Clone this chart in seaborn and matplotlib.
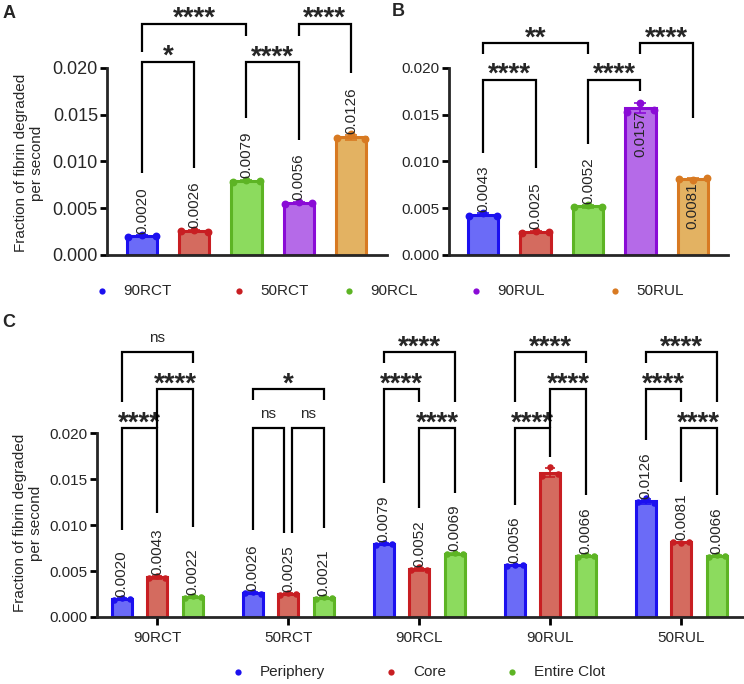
import numpy as np
import pandas as pd
import matplotlib
matplotlib.use("Agg")
import matplotlib.pyplot as plt
import seaborn as sns
from matplotlib.lines import Line2D
from matplotlib.ticker import FormatStrFormatter

# ---------------- data ----------------
conditions = ["90RCT", "50RCT", "90RCL", "90RUL", "50RUL"]
regions = ["Periphery", "Core", "Entire Clot"]

periphery_reps = [[0.0019, 0.0021, 0.0020],
                  [0.0026, 0.0027, 0.0025],
                  [0.0078, 0.0080, 0.0079],
                  [0.0055, 0.0057, 0.0056],
                  [0.0125, 0.0129, 0.0124]]
core_reps = [[0.0042, 0.0045, 0.0042],
             [0.0024, 0.0026, 0.0025],
             [0.0051, 0.0054, 0.0051],
             [0.0153, 0.0163, 0.0155],
             [0.0081, 0.0080, 0.0082]]
entire_reps = [[0.0021, 0.0023, 0.0022],
               [0.0020, 0.0022, 0.0021],
               [0.0068, 0.0070, 0.0069],
               [0.0065, 0.0067, 0.0066],
               [0.0065, 0.0067, 0.0066]]

periphery_labels = ["0.0020", "0.0026", "0.0079", "0.0056", "0.0126"]
core_labels = ["0.0043", "0.0025", "0.0052", "0.0157", "0.0081"]
entire_labels = ["0.0022", "0.0021", "0.0069", "0.0066", "0.0066"]
c_core_labels = ["0.0043", "0.0025", "0.0052", None, "0.0081"]
b_label_inside = [False, False, False, True, True]

# brackets: (bar i, bar j, level, left leg bottom, right leg bottom, text)
a_brackets = [(0, 1, 0.02064, 0.00877, 0.0093, "*"),
              (0, 2, 0.0247, 0.0217, 0.0234, "****"),
              (2, 3, 0.0206, 0.01465, 0.0123, "****"),
              (3, 4, 0.0247, 0.0234, 0.0195, "****")]
b_brackets = [(0, 1, 0.01872, 0.01096, 0.00926, "****"),
              (0, 2, 0.02266, 0.0215, 0.0215, "**"),
              (2, 3, 0.01872, 0.0119, 0.01755, "****"),
              (3, 4, 0.02266, 0.0215, 0.01468, "****")]
# panel C: (group, region i, region j, level, left bottom, right bottom, text)
c_brackets = [(0, 0, 1, 0.02054, 0.00946, 0.0113, "****"),
              (0, 1, 2, 0.02478, 0.02054, 0.00978, "****"),
              (0, 0, 2, 0.0288, 0.02337, 0.02761, "ns"),
              (1, 0, 1, 0.02054, 0.00946, 0.00913, "ns"),
              (1, 1, 2, 0.02054, 0.00913, 0.00967, "ns"),
              (1, 0, 2, 0.02478, 0.02359, 0.02359, "*"),
              (2, 0, 2, 0.0288, 0.02761, 0.02337, "****"),
              (2, 0, 1, 0.02478, 0.01457, 0.02337, "****"),
              (2, 1, 2, 0.02054, 0.01185, 0.01348, "****"),
              (3, 0, 2, 0.0288, 0.02337, 0.02761, "****"),
              (3, 1, 2, 0.02478, 0.02054, 0.01326, "****"),
              (3, 0, 1, 0.02054, 0.01217, 0.01739, "****"),
              (4, 0, 2, 0.0288, 0.02761, 0.02337, "****"),
              (4, 0, 1, 0.02478, 0.01924, 0.02337, "****"),
              (4, 1, 2, 0.02054, 0.01467, 0.01326, "****")]

cond_fill = ["#6b6bf7", "#d46b5f", "#8cdb5e", "#b56ae8", "#e3b262"]
cond_edge = ["#1c10ef", "#c81e22", "#5db424", "#8a0bd6", "#d87a22"]

# ---------------- style ----------------
sns.set_theme(style="ticks")
plt.rcParams["font.family"] = ["Liberation Sans", "DejaVu Sans"]
plt.rcParams["axes.linewidth"] = 2.0

W, H = 744, 684
fig = plt.figure(figsize=(W / 100, H / 100), dpi=100)


def ax_px(left, right, top, bottom):
    return fig.add_axes([left / W, 1 - bottom / H, (right - left) / W, (bottom - top) / H])


def fpos(x, y):
    return x / W, 1 - y / H


def style_axis(ax, ylim, xlim, tick_fs):
    ax.set_ylim(*ylim)
    ax.set_xlim(*xlim)
    sns.despine(ax=ax)
    ax.spines["left"].set_bounds(0, 0.020)
    ax.set_yticks([0, 0.005, 0.010, 0.015, 0.020])
    ax.yaxis.set_major_formatter(FormatStrFormatter("%.3f"))
    ax.tick_params(axis="y", length=5, width=2, labelsize=tick_fs, pad=1.5, color="black")
    ax.set_xlabel("")
    ax.set_ylabel("")
    ax.set_facecolor("none")


def draw_bracket(ax, x1, x2, level, lb, rb, text):
    ax.plot([x1, x1, x2, x2], [lb, level, level, rb], color="black", lw=1.6,
            clip_on=False, solid_joinstyle="miter", solid_capstyle="butt", zorder=5)
    xm = (x1 + x2) / 2
    if text == "ns":
        ax.annotate("ns", xy=(xm, level), xytext=(0, 7), textcoords="offset points",
                    ha="center", va="baseline", fontsize=11, annotation_clip=False)
    else:
        ax.annotate(text, xy=(xm, level), xytext=(0, -1.5), textcoords="offset points",
                    ha="center", va="baseline", fontsize=20, fontweight="bold",
                    annotation_clip=False)


def bar_centers(patches):
    return [p.get_x() + p.get_width() / 2 for p in patches]


def single_panel(ax, reps, labels, inside, brackets, tick_fs):
    df = pd.DataFrame({"cond": np.repeat(conditions, 3),
                       "value": np.concatenate([np.array(r) for r in reps])})
    sns.barplot(data=df, x="cond", y="value", hue="cond", order=conditions,
                hue_order=conditions, palette=cond_fill, errorbar=None,
                width=0.58, linewidth=2.2, legend=False, ax=ax, saturation=1)
    patches = [p for p in ax.patches]
    for p, ec in zip(patches, cond_edge):
        p.set_edgecolor(ec)
    xs = bar_centers(patches)
    hw = patches[0].get_width() / 2
    for i, r in enumerate(reps):
        r = np.array(r)
        ax.errorbar(xs[i], r.mean(), yerr=r.std(ddof=1), fmt="none", ecolor=cond_edge[i],
                    elinewidth=1.2, capsize=4.5, capthick=1.2, zorder=3)
        ax.scatter(xs[i] + np.array([-0.9, 0, 0.9]) * hw, r, s=32, color=cond_edge[i],
                   zorder=4, linewidths=0)
        if labels[i] is None:
            continue
        top = r.mean()
        if inside[i]:
            ax.annotate(labels[i], xy=(xs[i], top), xytext=(0, -2), textcoords="offset points",
                        rotation=90, ha="center", va="top", fontsize=11, zorder=6)
        else:
            ax.annotate(labels[i], xy=(xs[i], top), xytext=(0, 2), textcoords="offset points",
                        rotation=90, ha="center", va="bottom", fontsize=11, zorder=6)
    for (i, j, lev, lb, rb, t) in brackets:
        draw_bracket(ax, xs[i], xs[j], lev, lb, rb, t)
    style_axis(ax, (0, 0.02727), (-0.67, 4.69), tick_fs)
    ax.tick_params(axis="x", bottom=False, labelbottom=False)


# ---------------- panel A ----------------
axA = ax_px(107, 387, 0, 255)
single_panel(axA, periphery_reps, periphery_labels, [False] * 5, a_brackets, 13)

# ---------------- panel B ----------------
axB = ax_px(449, 728, 0, 255)
single_panel(axB, core_reps, core_labels, b_label_inside, b_brackets, 11)
axB.set_xlim(-0.65, 4.67)

# ---------------- panel C ----------------
axC = ax_px(97, 744, 330, 617)
all_reps = [periphery_reps, core_reps, entire_reps]
dfC = pd.DataFrame({
    "group": np.concatenate([np.repeat(conditions, 3) for _ in regions]),
    "region": np.repeat(regions, 15),
    "value": np.concatenate([np.concatenate([np.array(r) for r in reps]) for reps in all_reps]),
})
sns.barplot(data=dfC, x="group", y="value", hue="region", order=conditions,
            hue_order=regions, palette=cond_fill[:3], errorbar=None, width=0.813,
            gap=0.44, linewidth=2.2, legend=False, ax=axC, saturation=1)
c_patches = list(axC.patches)
c_labels = [periphery_labels, c_core_labels, entire_labels]
cx = {}
for k in range(3):
    pk = c_patches[k * 5:(k + 1) * 5]
    for p in pk:
        p.set_edgecolor(cond_edge[k])
    xs = bar_centers(pk)
    hw = pk[0].get_width() / 2
    for g in range(5):
        cx[(g, k)] = xs[g]
        r = np.array(all_reps[k][g])
        axC.errorbar(xs[g], r.mean(), yerr=r.std(ddof=1), fmt="none", ecolor=cond_edge[k],
                     elinewidth=1.2, capsize=3.5, capthick=1.2, zorder=3)
        axC.scatter(xs[g] + np.array([-0.8, 0, 0.8]) * hw, r, s=22, color=cond_edge[k],
                    zorder=4, linewidths=0)
        lab = c_labels[k][g]
        if lab is not None:
            axC.annotate(lab, xy=(xs[g], r.mean()), xytext=(0, 1.5), textcoords="offset points",
                         rotation=90, ha="center", va="bottom", fontsize=11, zorder=6)
for (g, i, j, lev, lb, rb, t) in c_brackets:
    x1, x2 = cx[(g, i)], cx[(g, j)]
    if g == 1 and lev < 0.021:
        if (i, j) == (0, 1):
            x2 -= 0.03
        else:
            x1 += 0.03
    draw_bracket(axC, x1, x2, lev, lb, rb, t)
style_axis(axC, (0, 0.0312), (-0.46, 4.48), 11)
axC.tick_params(axis="x", length=6, width=2, labelsize=11, pad=4, color="black")

# ---------------- labels & legends ----------------
ylab = "Fraction of fibrin degraded\nper second"
fig.text(*fpos(29, 163), ylab, rotation=90, ha="center", va="center", ma="center",
         fontsize=11, linespacing=1.15)
fig.text(*fpos(28, 523), ylab, rotation=90, ha="center", va="center", ma="center",
         fontsize=11, linespacing=1.15)

for t, (x, y) in zip(["A", "B", "C"], [(9, 13), (398, 11), (9, 322)]):
    fig.text(*fpos(x, y), t, fontsize=13, fontweight="bold", ha="center", va="center")

leg1_dots = [102, 239, 349, 476, 615]
for name, col, xd in zip(conditions, cond_edge, leg1_dots):
    fx, fy = fpos(xd, 291)
    fig.add_artist(Line2D([fx], [fy], marker="o", markersize=4.5, color=col, linestyle="none",
                          markeredgewidth=0, transform=fig.transFigure))
    fig.text(*fpos(xd + 21, 291), name, fontsize=11, ha="left", va="center")

leg2_dots = [238, 391, 512]
for name, col, xd in zip(regions, cond_edge[:3], leg2_dots):
    fx, fy = fpos(xd, 672)
    fig.add_artist(Line2D([fx], [fy], marker="o", markersize=4.5, color=col, linestyle="none",
                          markeredgewidth=0, transform=fig.transFigure))
    fig.text(*fpos(xd + 22, 672), name, fontsize=11, ha="left", va="center")

fig.savefig("out.png", dpi=100)
